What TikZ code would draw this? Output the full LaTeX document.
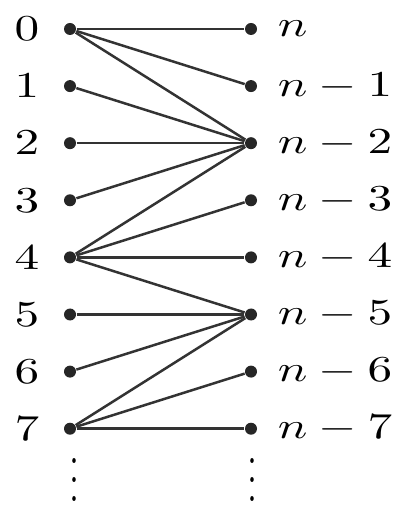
\documentclass[tikz,border=0pt]{standalone}
\begin{document}
\begin{tikzpicture}[x=0.3pt,y=-0.3pt,
  vtx/.style={circle,fill=black!85,inner sep=0pt,minimum size=3.6pt},
  lbl/.style={inner sep=0pt,xscale=1.35,font=\fontsize{11}{13}\selectfont},
  vd/.style={inner sep=0pt,yscale=1.4,font=\fontsize{11}{13}\selectfont},
  edge/.style={draw=black!80,line width=0.75pt}]
\useasboundingbox (0,0) rectangle (395,506);
\foreach \i in {0,...,7}{
  \pgfmathsetmacro{\yy}{29+57.1*\i}
  \node[vtx] (L\i) at (70,\yy) {};
  \node[vtx] (R\i) at (251,\yy) {};
  \node[lbl] (a\i) at (27,\yy) {$\i$};
}
\node[lbl,anchor=west] (b0) at (277,29) {$n$};
\foreach \i in {1,...,7}{
  \pgfmathsetmacro{\yy}{29+57.1*\i}
  \node[lbl,anchor=west] (b\i) at (277,\yy) {$n-\i$};
}
\foreach \a/\b in {0/0,0/1,0/2,1/2,2/2,3/2,4/2,4/3,4/4,4/5,5/5,6/5,7/5,7/6,7/7}
  \draw[edge] (L\a) -- (R\b);
\node[vd] (dl) at (74,466) {$\vdots$};
\node[vd] (dr) at (252,466) {$\vdots$};
\end{tikzpicture}
\end{document}
